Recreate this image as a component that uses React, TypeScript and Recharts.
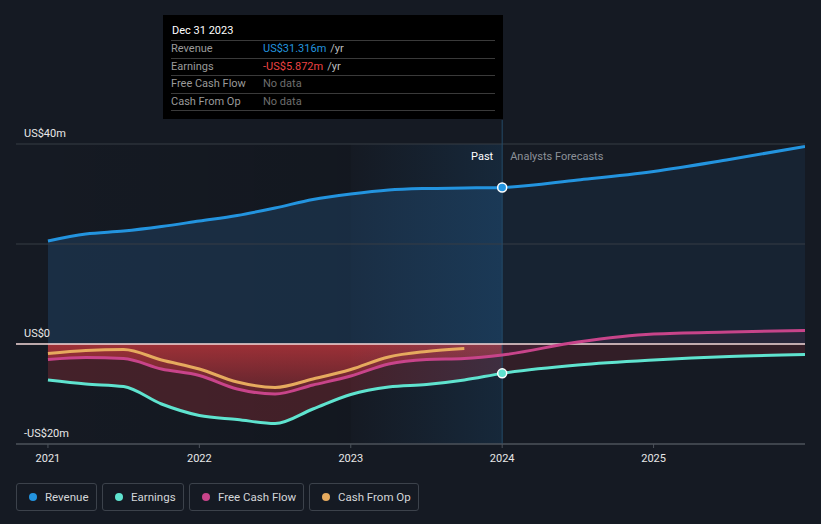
import React from "react";
import {
  ComposedChart,
  Area,
  Line,
  XAxis,
  YAxis,
  ReferenceLine,
  ReferenceArea,
} from "recharts";

// quarter positions in years
const YEARS = [
  2021, 2021.25, 2021.5, 2021.75, 2022, 2022.25, 2022.5, 2022.75, 2023,
  2023.25, 2023.5, 2023.75, 2024, 2024.5, 2025, 2025.5, 2026,
];
const REVENUE = [
  20.6, 22.0, 22.6, 23.5, 24.6, 25.7, 27.2, 28.9, 30.0, 30.8, 31.1, 31.2,
  31.316, 32.8, 34.5, 36.9, 39.5,
];
const EARNINGS = [
  -7.2, -8.0, -8.5, -12.0, -14.3, -15.1, -15.9, -13.0, -10.1, -8.6, -8.1,
  -7.2, -5.872, -4.2, -3.2, -2.5, -2.1,
];
const FCF = [
  -3.1, -2.7, -2.9, -5.0, -6.3, -9.0, -10.0, -8.2, -6.4, -4.0, -3.1, -2.9,
  -2.2, 0.4, 2.0, 2.4, 2.7,
];
const CFO = [
  -1.9, -1.3, -1.1, -3.2, -5.0, -7.6, -8.7, -7.0, -5.1, -2.6, -1.5, -0.9,
  null, null, null, null, null,
];
const X_TICKS = [2021, 2022, 2023, 2024, 2025];
const Y_TICKS = [-20, 0, 20, 40];
const Y_LABELS: Record<number, string> = {
  "-20": "-US$20m",
  0: "US$0",
  40: "US$40m",
};
const SPLIT = 2024;

const C_REV = "#2394df";
const C_EARN = "#5fe3cf";
const C_FCF = "#c8448a";
const C_CFO = "#e6aa5e";
const C_LOSS = "#c4373d";

const data = YEARS.map((x, i) => ({
  x,
  revenue: REVENUE[i],
  earnings: EARNINGS[i],
  fcf: FCF[i],
  cfo: CFO[i],
  revPast: x <= SPLIT ? REVENUE[i] : null,
  revFc: x >= SPLIT ? REVENUE[i] : null,
  earnPast: x <= SPLIT ? EARNINGS[i] : null,
  earnFc: x >= SPLIT ? EARNINGS[i] : null,
  fcfPast: x <= SPLIT ? FCF[i] : null,
  fcfFc: x >= SPLIT ? FCF[i] : null,
}));

const font = "Roboto, 'Noto Sans', sans-serif";

const YLabel = ({ viewBox, text }: any) => {
  if (!text) return null;
  return (
    <text
      x={24}
      y={viewBox.y - 7}
      fill="#e8e8e8"
      fontSize={11}
      fontFamily={font}
    >
      {text}
    </text>
  );
};

const XTick = (props: any) => {
  const { x, payload } = props;
  return (
    <text
      x={x}
      y={462}
      fill="#e8e8e8"
      fontSize={11}
      fontFamily={font}
      textAnchor="middle"
    >
      {payload.value}
    </text>
  );
};

const splitDot = (color: string) => (props: any) => {
  const { cx, cy, payload, index } = props;
  if (payload.x !== SPLIT) return <g key={`d-${index}`} />;
  return (
    <circle
      key={`d-${index}`}
      cx={cx}
      cy={cy}
      r={4.5}
      fill={color}
      stroke="#ffffff"
      strokeWidth={1.5}
    />
  );
};

const SplitLabel = (props: any) => {
  const { viewBox } = props;
  const x = viewBox.x;
  const y = viewBox.y + 40;
  return (
    <g fontFamily={font} fontSize={11}>
      <text x={x - 9} y={y} fill="#ffffff" textAnchor="end">
        Past
      </text>
      <text x={x + 8} y={y} fill="#8c9198">
        Analysts Forecasts
      </text>
    </g>
  );
};

const legendItems = [
  { name: "Revenue", color: C_REV, w: 81 },
  { name: "Earnings", color: C_EARN, w: 82 },
  { name: "Free Cash Flow", color: C_FCF, w: 115 },
  { name: "Cash From Op", color: C_CFO, w: 110 },
];

const tipRows = [
  { label: "Revenue", value: "US$31.316m", color: C_REV, unit: "/yr" },
  { label: "Earnings", value: "-US$5.872m", color: "#ec4343", unit: "/yr" },
  { label: "Free Cash Flow", value: "No data", color: "#6e6e6e", unit: "" },
  { label: "Cash From Op", value: "No data", color: "#6e6e6e", unit: "" },
];

export default function App() {
  return (
    <div
      style={{
        position: "relative",
        width: 821,
        height: 524,
        background: "#151a23",
        fontFamily: font,
        overflow: "hidden",
      }}
    >
      <style>{`body{margin:0}`}</style>
      <ComposedChart
        width={821}
        height={470}
        data={data}
        margin={{ top: 120, right: 16, left: 16, bottom: 0 }}
      >
        <defs>
          <linearGradient id="fcfGrad" x1="0" y1="0" x2="0" y2="1">
            <stop offset="0%" stopColor={C_LOSS} stopOpacity={0.7} />
            <stop offset="100%" stopColor={C_LOSS} stopOpacity={0.2} />
          </linearGradient>
          <linearGradient id="bandGrad" x1="0" y1="0" x2="1" y2="0">
            <stop offset="0%" stopColor="#1e78be" stopOpacity={0} />
            <stop offset="100%" stopColor="#1e78be" stopOpacity={0.3} />
          </linearGradient>
          <linearGradient id="darkGrad" x1="0" y1="0" x2="1" y2="0">
            <stop offset="0%" stopColor="#000000" stopOpacity={0} />
            <stop offset="100%" stopColor="#000000" stopOpacity={0.2} />
          </linearGradient>
        </defs>
        <XAxis
          dataKey="x"
          type="number"
          domain={[2020.789, 2026]}
          ticks={X_TICKS}
          height={26}
          stroke="#4c525b"
          tickSize={4}
          tick={<XTick />}
          allowDataOverflow
        />
        <YAxis
          type="number"
          domain={[-20, 44.8]}
          ticks={Y_TICKS}
          hide
          allowDataOverflow
        />
        {Y_TICKS.filter((t) => t !== 0).map((t) => (
          <ReferenceLine
            key={t}
            y={t}
            stroke={t === -20 ? "#4c525b" : "#363c45"}
            label={<YLabel text={Y_LABELS[t]} />}
          />
        ))}
        <ReferenceArea
          x1={2020.789}
          x2={2023}
          y1={-20}
          y2={40}
          fill="url(#darkGrad)"
          stroke="none"
        />
        <Area
          dataKey="revPast"
          type="monotone"
          baseValue={0}
          stroke="none"
          fill="#2a6aa8"
          fillOpacity={0.25}
          isAnimationActive={false}
        />
        <Area
          dataKey="revFc"
          type="monotone"
          baseValue={0}
          stroke="none"
          fill="#2a6aa8"
          fillOpacity={0.12}
          isAnimationActive={false}
        />
        <Area
          dataKey="earnPast"
          type="monotone"
          baseValue={0}
          stroke="none"
          fill={C_LOSS}
          fillOpacity={0.27}
          isAnimationActive={false}
        />
        <Area
          dataKey="fcfPast"
          type="monotone"
          baseValue={0}
          stroke="none"
          fill="url(#fcfGrad)"
          fillOpacity={1}
          isAnimationActive={false}
        />
        <Area
          dataKey="earnFc"
          type="monotone"
          baseValue={0}
          stroke="none"
          fill={C_LOSS}
          fillOpacity={0.17}
          isAnimationActive={false}
        />
        <Area
          dataKey="fcfFc"
          type="monotone"
          baseValue={0}
          stroke="none"
          fill={C_FCF}
          fillOpacity={0.1}
          isAnimationActive={false}
        />
        <ReferenceArea
          x1={2023}
          x2={2024}
          y1={-20}
          y2={40}
          fill="url(#bandGrad)"
          stroke="none"
        />
        <ReferenceLine x={SPLIT} stroke="#244a68" label={<SplitLabel />} />
        <ReferenceLine
          y={0}
          stroke="#f4dada"
          strokeWidth={1.5}
          label={<YLabel text={Y_LABELS[0]} />}
        />
        <Line
          dataKey="revenue"
          type="monotone"
          stroke={C_REV}
          strokeWidth={3}
          dot={splitDot(C_REV)}
          activeDot={false}
          isAnimationActive={false}
        />
        <Line
          dataKey="cfo"
          type="monotone"
          stroke={C_CFO}
          strokeWidth={3}
          dot={false}
          activeDot={false}
          isAnimationActive={false}
        />
        <Line
          dataKey="fcf"
          type="monotone"
          stroke={C_FCF}
          strokeWidth={3}
          dot={false}
          activeDot={false}
          isAnimationActive={false}
        />
        <Line
          dataKey="earnings"
          type="monotone"
          stroke={C_EARN}
          strokeWidth={3}
          dot={splitDot(C_EARN)}
          activeDot={false}
          isAnimationActive={false}
        />
      </ComposedChart>

      {/* static tooltip */}
      <div
        style={{
          position: "absolute",
          left: 163,
          top: 15,
          width: 340,
          height: 104,
          background: "#000000",
          boxSizing: "border-box",
          padding: "0 8px",
          fontSize: 11,
        }}
      >
        <div
          style={{
            color: "#ffffff",
            height: 25,
            lineHeight: "32px",
            borderBottom: "1px solid #3a3a3a",
            paddingLeft: 1,
          }}
        >
          Dec 31 2023
        </div>
        {tipRows.map((r) => (
          <div
            key={r.label}
            style={{
              display: "flex",
              height: 16.5,
              lineHeight: "16px",
              borderBottom: "1px solid #3a3a3a",
            }}
          >
            <span style={{ width: 92, color: "#9a9a9a" }}>{r.label}</span>
            <span style={{ color: r.color }}>{r.value}</span>
            {r.unit && (
              <span style={{ color: "#bdbdbd", marginLeft: 4 }}>{r.unit}</span>
            )}
          </div>
        ))}
      </div>

      {/* legend */}
      <div
        style={{
          position: "absolute",
          left: 16,
          top: 483,
          display: "flex",
          gap: 5,
        }}
      >
        {legendItems.map((it) => (
          <div
            key={it.name}
            style={{
              width: it.w,
              height: 28,
              boxSizing: "border-box",
              border: "1px solid #3c424b",
              borderRadius: 3,
              display: "flex",
              alignItems: "center",
              paddingLeft: 12,
              fontSize: 11.5,
              color: "#d4d6d9",
            }}
          >
            <span
              style={{
                width: 8,
                height: 8,
                borderRadius: 4,
                background: it.color,
                marginRight: 8,
                flexShrink: 0,
              }}
            />
            {it.name}
          </div>
        ))}
      </div>
    </div>
  );
}
